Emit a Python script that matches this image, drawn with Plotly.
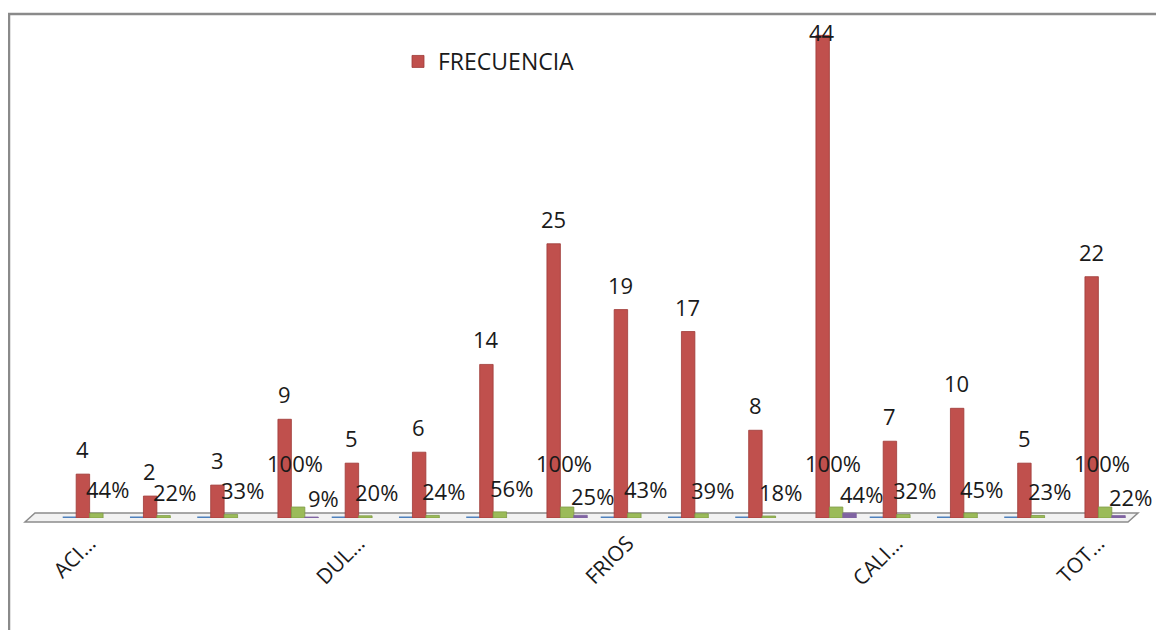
import plotly.graph_objects as go

# ---- data ----
categories = ["ACIDOS 1", "ACIDOS 2", "ACIDOS 3", "ACIDOS TOTAL",
              "DULCES 1", "DULCES 2", "DULCES 3", "DULCES TOTAL",
              "FRIOS 1", "FRIOS 2", "FRIOS 3", "FRIOS TOTAL",
              "CALIENTES 1", "CALIENTES 2", "CALIENTES 3", "TOTAL"]
tick_index = [0, 4, 8, 12, 15]
tick_labels = ["ACI…", "DUL…", "FRIOS", "CALI…", "TOT…"]

serie1 = [0, 0, 0, None, 0, 0, 0, None, 0, 0, 0, None, 0, 0, 0, None]
frecuencia = [4, 2, 3, 9, 5, 6, 14, 25, 19, 17, 8, 44, 7, 10, 5, 22]
porcentaje = [0.44, 0.22, 0.33, 1.00, 0.20, 0.24, 0.56, 1.00,
              0.43, 0.39, 0.18, 1.00, 0.32, 0.45, 0.23, 1.00]
serie4 = [None, None, None, 0.09, None, None, None, 0.25,
          None, None, None, 0.44, None, None, None, 0.22]

x = list(range(len(categories)))

BLUE, RED, GREEN, PURPLE = "#4F81BD", "#C0504D", "#9BBB59", "#8064A2"
FONT = "Open Sans"

fig = go.Figure()
fig.add_trace(go.Bar(x=x, y=serie1, name="Serie1", marker=dict(color=BLUE, line=dict(color=BLUE, width=3)),
                     showlegend=False))
fig.add_trace(go.Bar(x=x, y=frecuencia, name="FRECUENCIA", marker=dict(color=RED, line=dict(color="#9E3A37", width=0.8))))
fig.add_trace(go.Bar(x=x, y=porcentaje, name="Porcentaje", marker=dict(color=GREEN, line=dict(color="#7E9B45", width=0.8)),
                     showlegend=False))
fig.add_trace(go.Bar(x=x, y=serie4, name="Serie4", marker=dict(color=PURPLE, line=dict(color=PURPLE, width=0.8)),
                     showlegend=False))

W, H = 1164, 630
OFF = 8  # page body margin
ML, MR, MT, MB = 56 - OFF, 32 + OFF, 20 - OFF, 112 + OFF
YMAX = 45.4
plot_h = H - MT - MB
px_per_unit = plot_h / YMAX

ann = []
LBL = dict(size=22, color="#1a1a1a", family=FONT)
for i, v in enumerate(frecuencia):
    top_px = MT + (YMAX - v) * px_per_unit
    ys = 25 if top_px - 25 > MT + 14 else 3
    ann.append(dict(x=i, y=v, text=str(v), showarrow=False, xshift=-7, yshift=ys,
                    yanchor="middle", font=LBL))
for i, v in enumerate(porcentaje):
    has4 = serie4[i] is not None
    ann.append(dict(x=i, y=v, text=f"{round(v*100)}%", showarrow=False,
                    xshift=4 if has4 else 18, yshift=44 if has4 else 24,
                    yanchor="middle", font=LBL))
for i, v in enumerate(serie4):
    if v is None:
        continue
    ann.append(dict(x=i, y=v, text=f"{round(v*100)}%", showarrow=False, xshift=32, yshift=19,
                    yanchor="middle", font=LBL))

pw = W - ML - MR
def px(xp):
    return (xp - OFF - ML) / pw
def py(yp):
    return (H - MB - (yp - OFF)) / plot_h

shapes = [
    # 3D floor
    dict(type="path", xref="paper", yref="paper",
         path=f"M {px(25)} {py(522)} L {px(1128)} {py(522)} L {px(1138)} {py(513)} L {px(35)} {py(513)} Z",
         fillcolor="#F2F2F2", line=dict(color="#8C8C8C", width=1.5), layer="below"),
    # chart border
    dict(type="rect", xref="paper", yref="paper",
         x0=px(9), x1=px(1300), y0=py(14), y1=py(800),
         line=dict(color="#8A8A8A", width=2.5), fillcolor="rgba(0,0,0,0)"),
]

fig.update_layout(
    width=W, height=H,
    margin=dict(l=ML, r=MR, t=MT, b=MB),
    paper_bgcolor="white", plot_bgcolor="white",
    barmode="group", bargap=0.2, bargroupgap=0,
    font=dict(family=FONT, color="#1a1a1a"),
    showlegend=True,
    legend=dict(x=px(398), y=py(40), xanchor="left", yanchor="top",
                font=dict(size=23, family=FONT, color="#1a1a1a"),
                bgcolor="rgba(0,0,0,0)"),
    annotations=ann,
    shapes=shapes,
    xaxis=dict(range=[-0.5, len(categories) - 0.5], tickmode="array", tickvals=tick_index,
               ticktext=tick_labels, tickangle=-45, tickfont=dict(size=21, family=FONT, color="#1a1a1a"),
               showgrid=False, zeroline=False, showline=False, ticks="", ticklabelstandoff=8),
    yaxis=dict(range=[0, YMAX], visible=False, showgrid=False, zeroline=False),
)

fig.write_html("out.html")
